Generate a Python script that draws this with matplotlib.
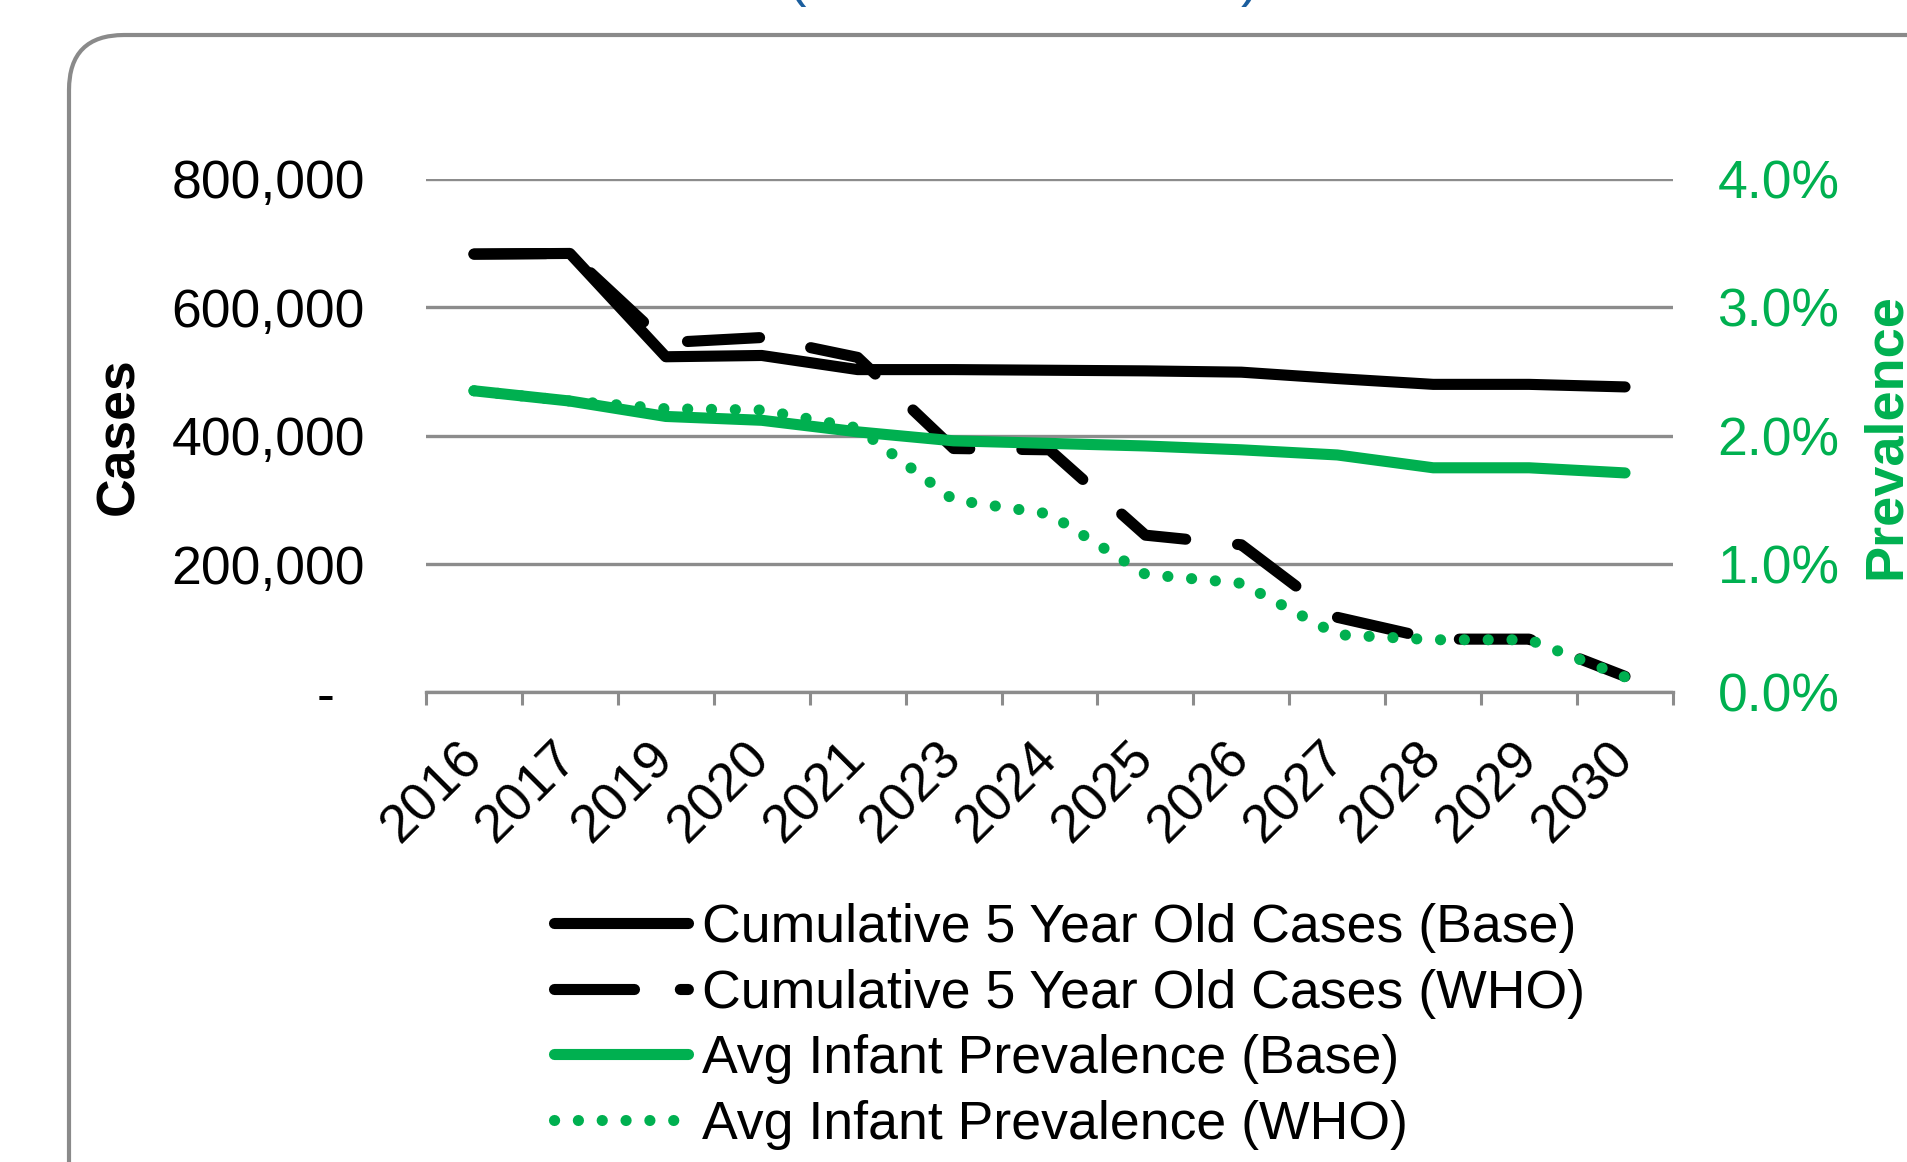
import matplotlib
matplotlib.use('Agg')
import matplotlib.pyplot as plt
from matplotlib.patches import FancyBboxPatch
from matplotlib.lines import Line2D
from matplotlib.ticker import FuncFormatter, FixedLocator

# ---------------- data ----------------
years = ['2016', '2017', '2019', '2020', '2021', '2023', '2024',
         '2025', '2026', '2027', '2028', '2029', '2030']
cases_base = [683000, 684000, 523000, 525000, 503000, 503000, 502000,
              501000, 499000, 489000, 480000, 480000, 476000]
cases_who = [683000, 684000, 545000, 553000, 522000, 380000, 378000,
             245000, 230000, 117000, 83000, 83000, 25000]
prev_base = [0.0235, 0.0227, 0.0215, 0.0212, 0.0203, 0.0196, 0.0194,
             0.0192, 0.0189, 0.0185, 0.0175, 0.0175, 0.0171]
prev_who = [0.0235, 0.0227, 0.0221, 0.0220, 0.0206, 0.0150, 0.0139,
            0.0092, 0.0085, 0.0045, 0.0041, 0.0041, 0.0012]
series_labels = ['Cumulative 5 Year Old Cases (Base)',
                 'Cumulative 5 Year Old Cases (WHO)',
                 'Avg Infant Prevalence (Base)',
                 'Avg Infant Prevalence (WHO)']
left_ticks = [0, 200000, 400000, 600000, 800000]
right_ticks = [0.0, 0.01, 0.02, 0.03, 0.04]

# ---------------- style ----------------
plt.rcParams['font.family'] = ['Liberation Sans', 'DejaVu Sans']
plt.rcParams['lines.scale_dashes'] = False
GREEN = '#00B050'
GRID = '#8C8C8C'
BLUE = '#1B5E9E'
LW = 8.0
FS = 38.5

W, H = 1908, 1162
fig = plt.figure(figsize=(W / 100, H / 100), dpi=100)

# rounded chart border (cropped on right and bottom)
border = FancyBboxPatch((0.69, -3.0), 30.0, 11.27 + 3.0,
                        boxstyle='round,pad=0,rounding_size=0.55',
                        transform=fig.dpi_scale_trans, fill=False,
                        ec='#8A8A8A', lw=3.0, clip_on=False, zorder=0)
fig.add_artist(border)

# bits of the (cropped) title
fig.text(797 / W, 1 + 5.5 / H, '(', color=BLUE, fontsize=40, ha='center',
         va='baseline')
fig.text(1250 / W, 1 + 5.5 / H, ')', color=BLUE, fontsize=40, ha='center',
         va='baseline')

ax = fig.add_axes([426 / W, 1 - 692.4 / H, (1673 - 426) / W, (692.4 - 179) / H])
ax2 = ax.twinx()

x = list(range(len(years)))

ax.plot(x, cases_base, color='black', lw=LW, solid_capstyle='round',
        solid_joinstyle='round', zorder=3)
ax.plot(x, cases_who, color='black', lw=LW, linestyle=(0, (52, 37.5)),
        dash_capstyle='round', dash_joinstyle='round', zorder=3)
ax2.plot(x, prev_base, color=GREEN, lw=LW, solid_capstyle='round',
         solid_joinstyle='round', zorder=3)
ax2.plot(x, prev_who, color=GREEN, lw=LW, linestyle=(0, (0.1, 17.06)),
         dash_capstyle='round', zorder=4)

# left axis
ax.set_xlim(-0.5, len(years) - 0.5)
ax.set_ylim(0, 800000)
ax.yaxis.set_major_locator(FixedLocator(left_ticks))
ax.yaxis.set_major_formatter(FuncFormatter(
    lambda v, p: '-\u2007' if v == 0 else f'{int(v):,}'))
ax.tick_params(axis='y', length=0, pad=44, labelsize=FS, colors='black')
ax.grid(axis='y', color=GRID, lw=2.4, zorder=1)
ax.set_axisbelow(True)
for s in ['left', 'right', 'top']:
    ax.spines[s].set_visible(False)
ax.spines['bottom'].set_color(GRID)
ax.spines['bottom'].set_linewidth(2.4)

ax.set_xticks(x)
ax.set_xticklabels(years, rotation=45, ha='right', va='center',
                   rotation_mode='anchor', fontsize=FS)
ax.tick_params(axis='x', which='major', length=0, pad=42)
ax.set_xticks([i - 0.5 for i in range(len(years) + 1)], minor=True)
ax.tick_params(axis='x', which='minor', length=9.4, width=2.2, color=GRID,
               direction='out')

ax.set_ylabel('Cases', fontsize=FS, fontweight='bold', color='black')
ax.yaxis.set_label_coords(-0.226, 0.5)

# right axis
ax2.set_ylim(0, 0.04)
ax2.yaxis.set_major_locator(FixedLocator(right_ticks))
ax2.yaxis.set_major_formatter(FuncFormatter(lambda v, p: f'{v * 100:.1f}%'))
ax2.tick_params(axis='y', length=0, pad=32, labelsize=FS, colors=GREEN)
for s in ax2.spines.values():
    s.set_visible(False)
ax2.set_ylabel('Prevalence', fontsize=39, fontweight='bold', color=GREEN)
ax2.yaxis.set_label_coords(1.151, 0.5)

# legend
handles = [
    Line2D([], [], color='black', lw=LW, solid_capstyle='round'),
    Line2D([], [], color='black', lw=LW, linestyle=(0, (57.6, 33, 5.8, 200)),
           dash_capstyle='round'),
    Line2D([], [], color=GREEN, lw=LW, solid_capstyle='round'),
    Line2D([], [], color=GREEN, lw=LW, linestyle=(0, (0.1, 17.06)),
           dash_capstyle='round'),
]
fig.legend(handles, series_labels, loc='upper left',
           bbox_to_anchor=(553.5 / W, (H - 903) / H), frameon=False,
           fontsize=38.6, handlelength=2.5, handletextpad=0.27,
           labelspacing=0.29, borderpad=0, borderaxespad=0)

fig.savefig('out.png', dpi=100)
